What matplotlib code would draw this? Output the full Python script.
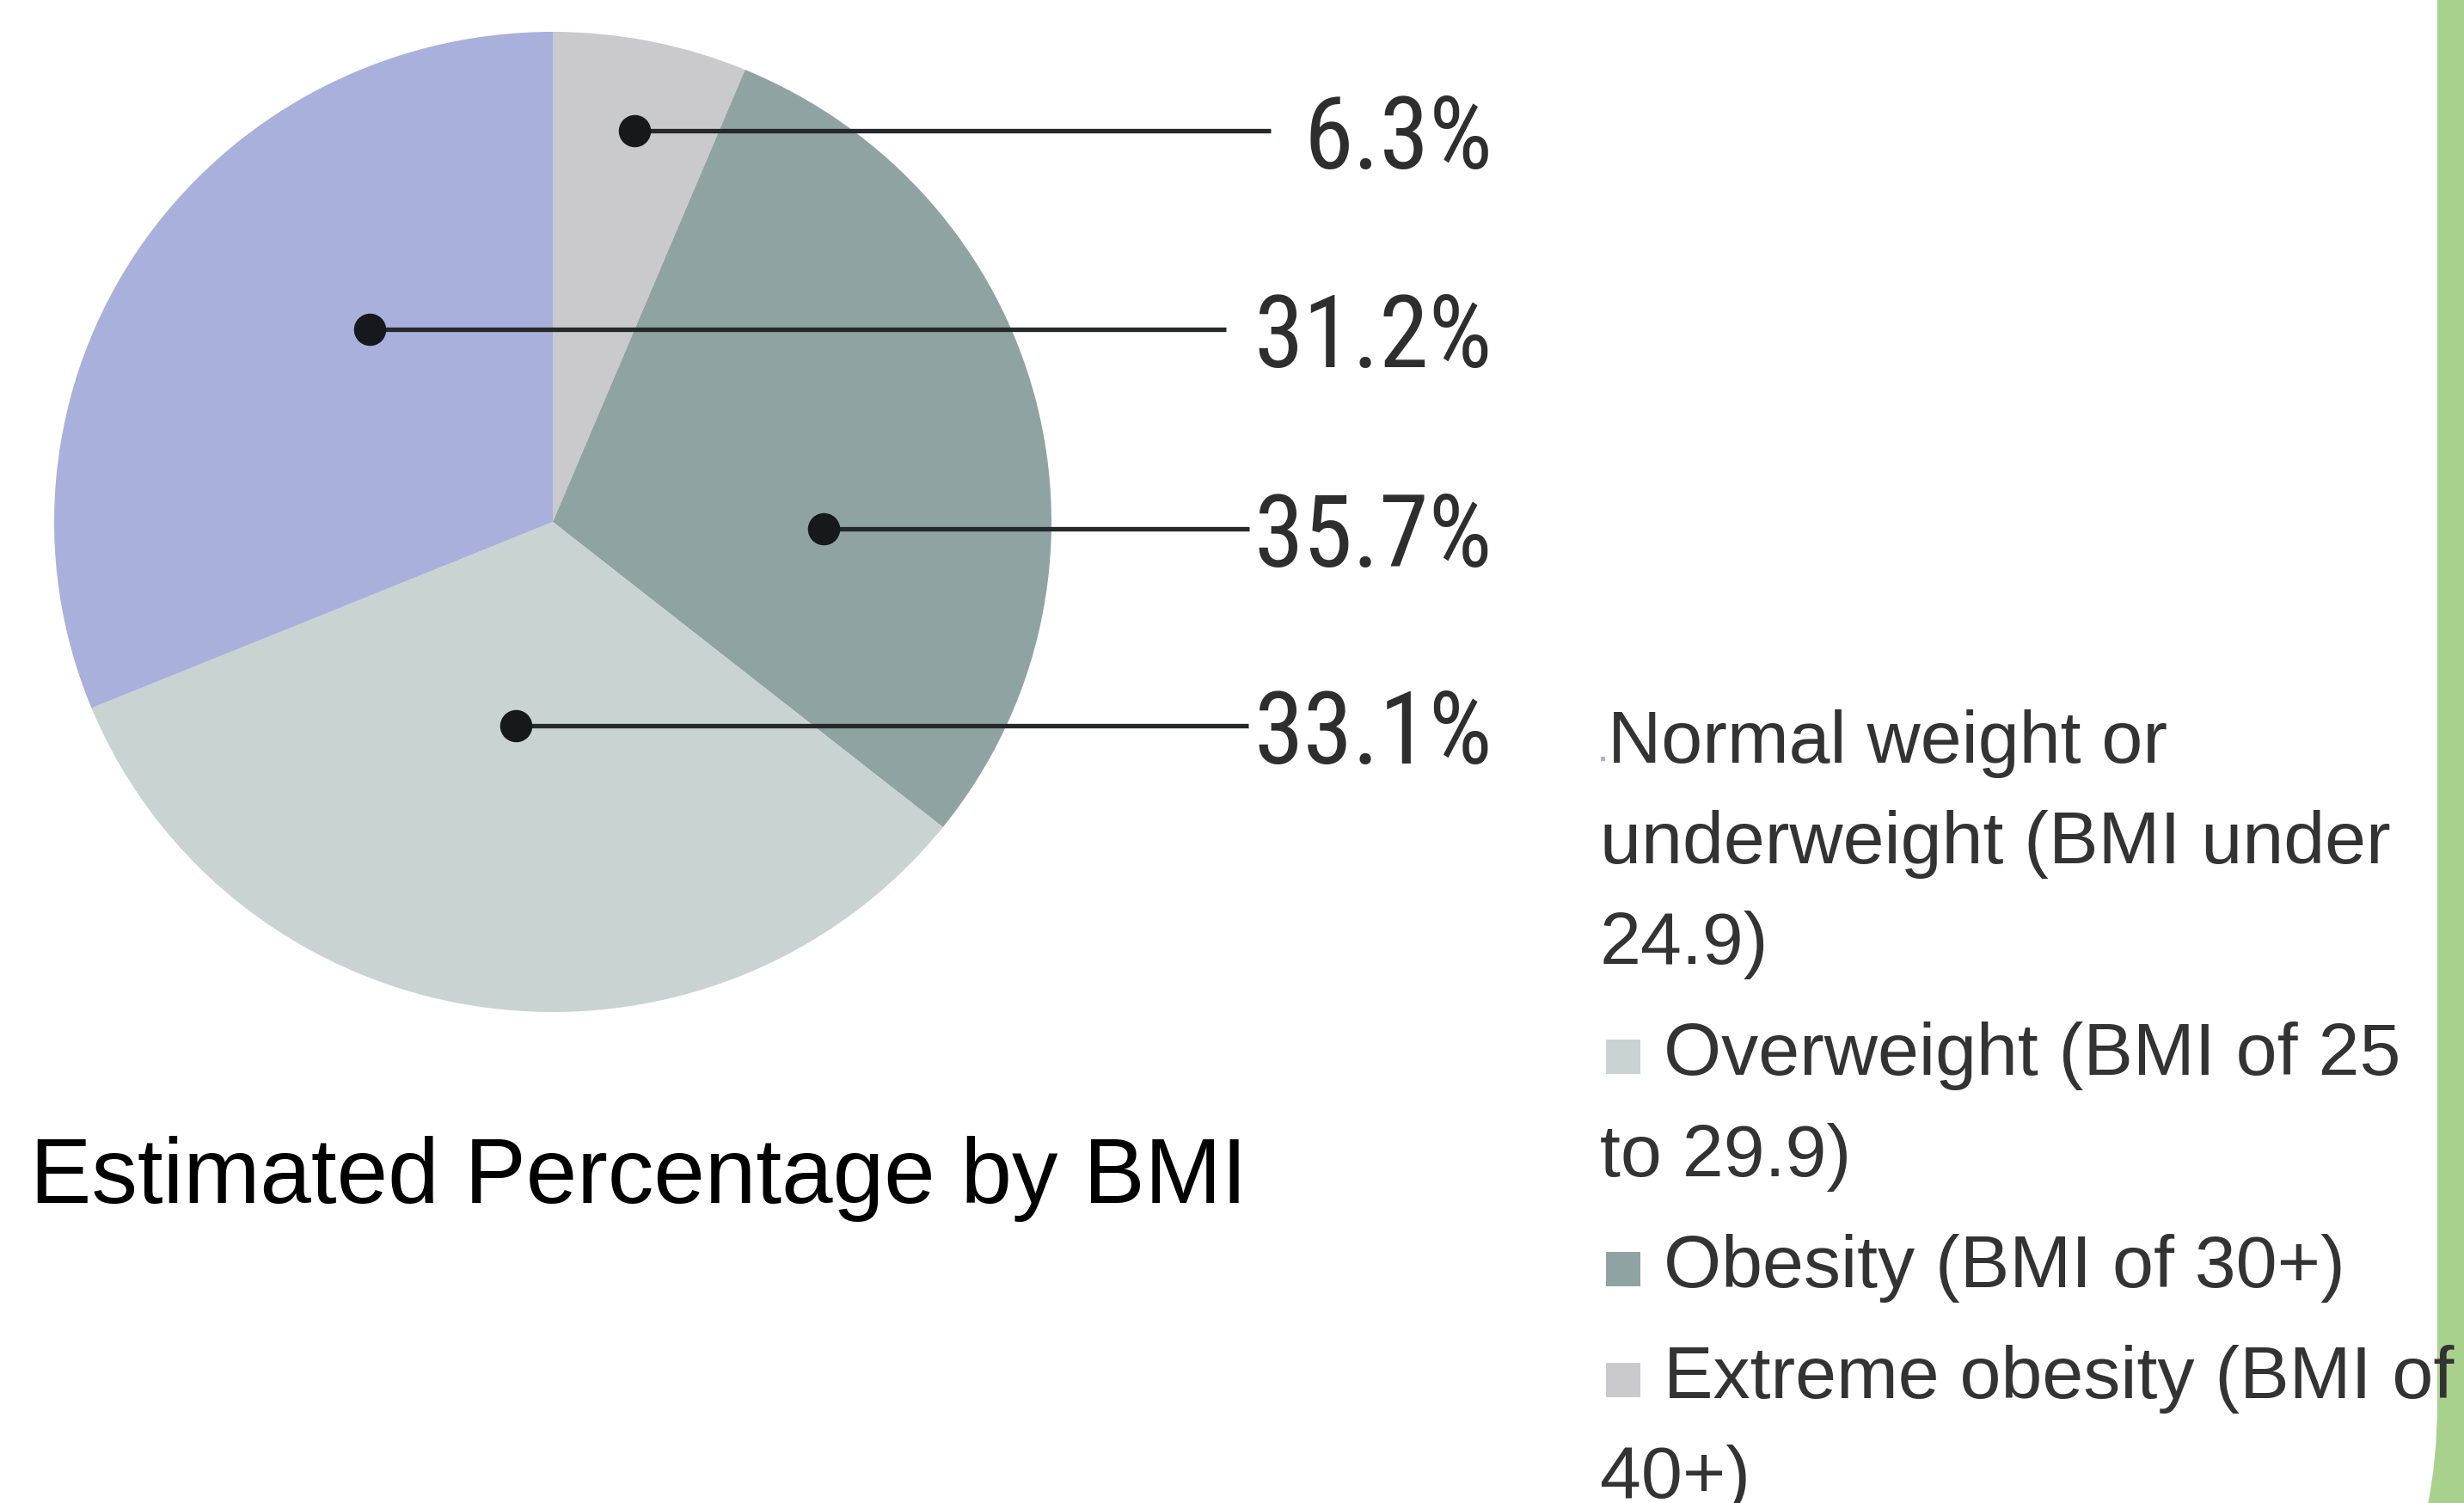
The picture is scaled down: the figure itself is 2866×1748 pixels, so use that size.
import matplotlib
matplotlib.use("Agg")
import matplotlib.pyplot as plt
from matplotlib import font_manager
from matplotlib.font_manager import FontProperties
from matplotlib.patches import Rectangle, PathPatch
from matplotlib.path import Path

# ---------------- data ----------------
categories = ["Extreme obesity", "Obesity", "Overweight", "Normal weight or underweight"]
label_values = [6.3, 35.7, 33.1, 31.2]          # percentages printed on the chart
wedge_sizes = [6.3, 29.4, 33.1, 31.2]           # pie wedge sizes (obesity wedge excludes extreme obesity)
wedge_colors = ["#cacacc", "#8fa3a2", "#c9d3d2", "#a9b0dc"]
label_order = ["6.3%", "31.2%", "35.7%", "33.1%"]
legend_lines = [
    "Normal weight or",
    "underweight (BMI under",
    "24.9)",
    "Overweight (BMI of 25",
    "to 29.9)",
    "Obesity (BMI of 30+)",
    "Extreme obesity (BMI of",
    "40+)",
]
title_text = "Estimated Percentage by BMI"

# ---------------- layout (pixels) ----------------
W, H = 2866, 1749
DPI = 100
fig = plt.figure(figsize=(W / DPI, H / DPI), dpi=DPI)
fig.patch.set_facecolor("white")

names = {f.name for f in font_manager.fontManager.ttflist}
sans = "Liberation Sans" if "Liberation Sans" in names else "DejaVu Sans"

# look for a condensed / narrow face for the percentage labels
cond_file = None
for f in font_manager.fontManager.ttflist:
    fn = f.fname.lower()
    if ("narrow" in fn or "condensed" in fn) and "bold" not in fn and "italic" not in fn \
            and "oblique" not in fn and ("liberation" in fn or "dejavusans" in fn.replace("-", "")
                                         or "roboto" in fn or "opensans" in fn or "noto" in fn):
        if "extra" in fn or "semi" in fn or "light" in fn or "thin" in fn or "black" in fn or "medium" in fn:
            continue
        cond_file = f.fname
        if "liberation" in fn:
            break
if cond_file:
    label_fp = FontProperties(fname=cond_file, size=84)
else:
    label_fp = FontProperties(family=sans, size=73)

# pie axes: bbox of the (slightly elliptical) pie in pixels
px0, px1, py0, py1 = 63, 1223, 38, 1178
axp = fig.add_axes([px0 / W, 1 - py1 / H, (px1 - px0) / W, (py1 - py0) / H])
axp.pie(wedge_sizes, colors=wedge_colors, startangle=90, counterclock=False,
        radius=1.0, wedgeprops=dict(linewidth=0, edgecolor="none"))
axp.set_aspect("auto")
axp.set_xlim(-1, 1)
axp.set_ylim(-1, 1)
axp.axis("off")

# overlay axes in pixel coordinates
ax = fig.add_axes([0, 0, 1, 1])
ax.set_xlim(0, W)
ax.set_ylim(H, 0)
ax.axis("off")

renderer = fig.canvas.get_renderer()

# leader dots, lines and labels
dots = [(738, 153), (430, 384), (958, 616), (600, 845)]
line_ends = [1478, 1426, 1453, 1453]
label_right = 1736
for (dx, dy), xe, lab in zip(dots, line_ends, label_order):
    t = ax.text(label_right, dy + 43, lab, ha="right", va="baseline",
                fontproperties=label_fp, color="#2e2e2e", zorder=5)
    bb = t.get_window_extent(renderer=renderer)
    text_left = bb.x0  # pixel coords == data coords here (x)
    xe = min(xe, text_left - 6)
    ax.plot([dx, xe], [dy, dy], color="#25292a", lw=3.8, solid_capstyle="butt", zorder=3)
    ax.plot([dx], [dy], marker="o", ms=26, color="#15191b", zorder=4)

# title
ax.text(35, 1399, title_text, ha="left", va="baseline", fontsize=77, family=sans, color="black")

# legend
legend_baselines = [887, 1004, 1121, 1250, 1368, 1497, 1626, 1742]
legend_x = [1870, 1861, 1861, 1935, 1861, 1935, 1935, 1861]
for txt, yb, xx in zip(legend_lines, legend_baselines, legend_x):
    ax.text(xx, yb, txt, ha="left", va="baseline", fontsize=62, family=sans,
            color="#333333", zorder=6)

# legend markers
ax.add_patch(Rectangle((1862, 881), 5, 5, facecolor=wedge_colors[3], edgecolor="none"))
marker_items = [(1250, wedge_colors[2]), (1497, wedge_colors[1]), (1626, wedge_colors[0])]
for yb, c in marker_items:
    ax.add_patch(Rectangle((1868, yb - 40), 40, 40, facecolor=c, edgecolor="none"))

# green bar on the right edge with rounded bottom-left
verts = [(2835, -5), (2835, 1630), (2835, 1700), (2823, 1755), (2870, 1755), (2870, -5), (2835, -5)]
codes = [Path.MOVETO, Path.LINETO, Path.CURVE3, Path.CURVE3, Path.LINETO, Path.LINETO, Path.CLOSEPOLY]
ax.add_patch(PathPatch(Path(verts, codes), facecolor="#a9d18e", edgecolor="none", zorder=2))

fig.savefig("out.png", dpi=DPI, facecolor="white")
